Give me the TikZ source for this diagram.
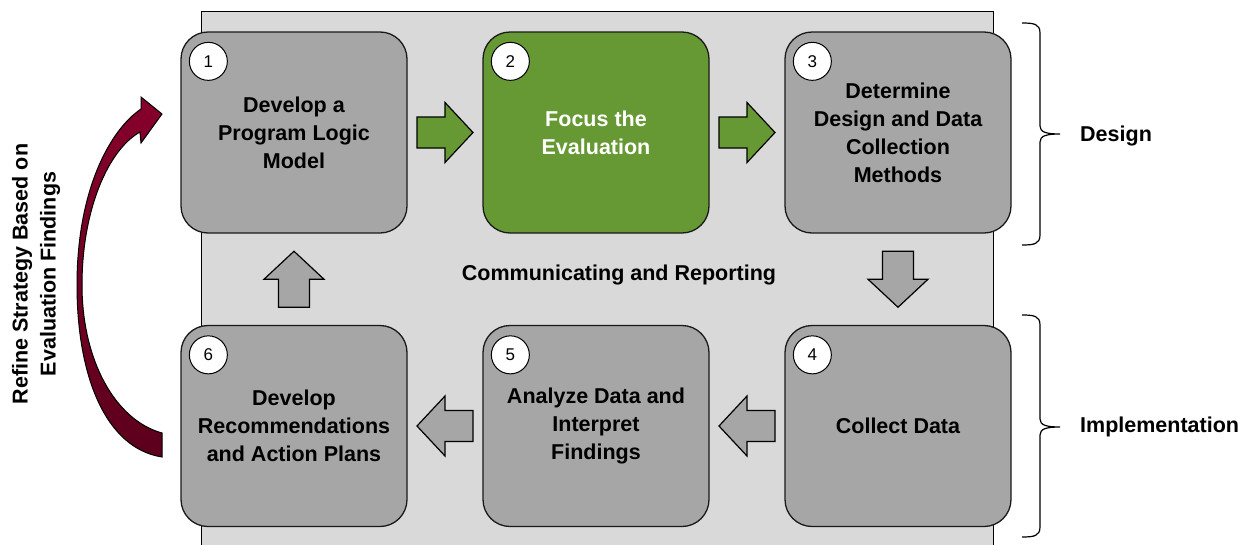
\documentclass[tikz,border=0pt]{standalone}
\usepackage{fontspec}
\setmainfont{Liberation Sans}
\usetikzlibrary{calc}
\definecolor{bgray}{HTML}{D9D9D9}
\definecolor{boxgray}{HTML}{A6A6A6}
\definecolor{mygreen}{HTML}{669933}
\definecolor{maroonA}{HTML}{86002C}
\definecolor{maroonB}{HTML}{5C001C}
\tikzset{
  stepbox/.style={draw=black!90, line width=1.3pt, fill=boxgray, rounded corners=27pt,
    minimum width=226pt, minimum height=201pt, align=center, inner sep=0pt,
    font=\bfseries\fontsize{21.5}{28}\selectfont},
  numcirc/.style={circle, draw=black, fill=white, line width=1pt, minimum size=38pt,
    inner sep=0pt, font=\fontsize{17}{17}\selectfont},
  lbl/.style={font=\bfseries\fontsize{21.5}{28}\selectfont, align=center, inner sep=0pt},
  barrow/.pic={\filldraw[fill=#1, draw=black, line width=1.2pt, line join=miter]
    (-28,-15.5)--(0,-15.5)--(0,-30)--(28,0)--(0,30)--(0,15.5)--(-28,15.5)--cycle;},
  bracestyle/.style={draw=black, line width=1.2pt}
}
\begin{document}
\begin{tikzpicture}[x=1pt,y=-1pt]
\useasboundingbox (0,0) rectangle (1251,544);
\clip (0,0) rectangle (1251,544);
% background panel
\filldraw[fill=bgray, draw=black, line width=1pt] (201,11) rectangle (993,560);

% boxes
\node[stepbox] (b1) at (294,132.5) {Develop a\\Program Logic\\Model};
\node[stepbox, fill=mygreen, text=white] (b2) at (596,132.5) {Focus the\\Evaluation};
\node[stepbox] (b3) at (898,132.5) {Determine\\Design and Data\\Collection\\Methods};
\node[stepbox] (b4) at (898,426) {Collect Data};
\node[stepbox] (b5) at (596,426) {Analyze Data and\\Interpret\\Findings};
\node[stepbox] (b6) at (294,426) {Develop\\Recommendations\\and Action Plans};

% number circles
\foreach \b/\n in {b1/1,b2/2,b3/3,b4/4,b5/5,b6/6}
  \node[numcirc] (n\n) at ($(\b.north west)+(28,30)$) {\n};

% block arrows
\path ($(b1.east)!0.5!(b2.west)$) pic{barrow=mygreen};
\path ($(b2.east)!0.5!(b3.west)$) pic{barrow=mygreen};
\path ($(b3.south)!0.5!(b4.north)$) pic[rotate=-90]{barrow=boxgray};
\path ($(b4.west)!0.5!(b5.east)$) pic[rotate=180]{barrow=boxgray};
\path ($(b5.west)!0.5!(b6.east)$) pic[rotate=180]{barrow=boxgray};
\path ($(b6.north)!0.5!(b1.south)$) pic[rotate=90]{barrow=boxgray};

% centre label
\node[lbl] (comm) at (619,275) {Communicating and Reporting};

% braces
\draw[bracestyle] (1022,23) .. controls (1034,23) and (1040,24) .. (1040,33) -- (1040,126)
  .. controls (1040,132) and (1046,134) .. (1060,134)
  .. controls (1046,134) and (1040,136) .. (1040,142) -- (1040,235)
  .. controls (1040,244) and (1034,245) .. (1022,245);
\draw[bracestyle] (1022,315) .. controls (1034,315) and (1040,316) .. (1040,325) -- (1040,419)
  .. controls (1040,425) and (1046,427) .. (1060,427)
  .. controls (1046,427) and (1040,429) .. (1040,435) -- (1040,527)
  .. controls (1040,536) and (1034,537) .. (1022,537);
\node[lbl, anchor=west] (design) at (1080,136) {Design};
\node[lbl, anchor=west] (impl) at (1080,427) {Implementation};

% curved feedback arrow
\path[draw=black, line width=1pt, top color=maroonA, bottom color=maroonB]
  (162,457) .. controls (105,448) and (77,375) .. (77,285)
  .. controls (77,190) and (110,130) .. (141,109)
  -- (141,97) -- (162,114) -- (141,143) -- (140,132)
  .. controls (108,150) and (82,210) .. (82,285)
  .. controls (82,360) and (115,420) .. (162,433) -- cycle;
\node[lbl, rotate=90] (refine) at (36,274) {Refine Strategy Based on\\Evaluation Findings};
\end{tikzpicture}
\end{document}
